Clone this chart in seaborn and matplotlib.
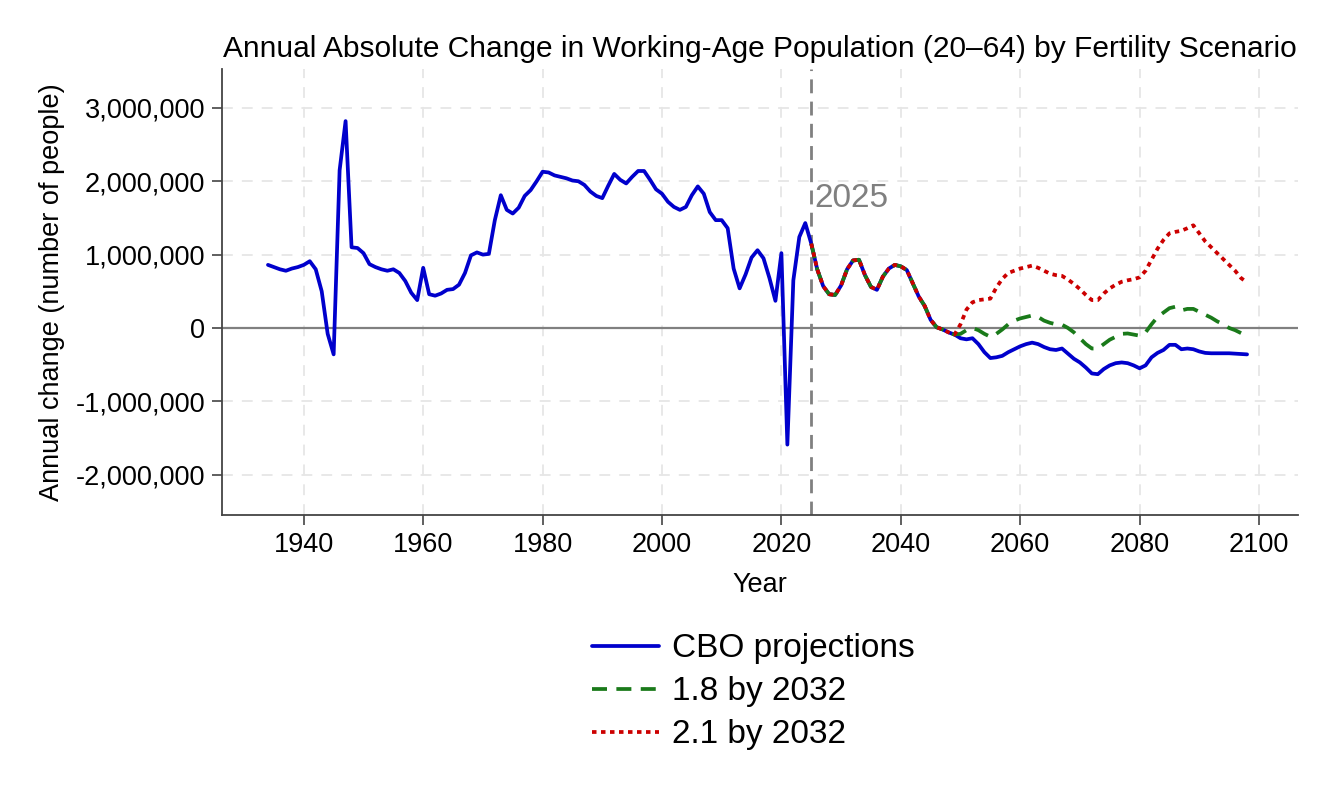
import numpy as np
import pandas as pd
import matplotlib
matplotlib.use("Agg")
import matplotlib.pyplot as plt
import matplotlib.ticker as mticker
import seaborn as sns

# annual change in working-age population, millions of people
hist_years = list(range(1934, 2050))
hist_vals = [
    0.86, 0.83, 0.80, 0.78, 0.81, 0.83, 0.86, 0.91, 0.80, 0.50,   # 1934-1943
    -0.08, -0.36, 2.15, 2.82, 1.10, 1.09, 1.02, 0.87, 0.83, 0.80,  # 1944-1953
    0.78, 0.80, 0.75, 0.64, 0.48, 0.38, 0.82, 0.46, 0.44, 0.47,    # 1954-1963
    0.52, 0.53, 0.59, 0.75, 0.99, 1.03, 1.00, 1.01, 1.47, 1.81,    # 1964-1973
    1.61, 1.56, 1.64, 1.80, 1.88, 2.00, 2.13, 2.12, 2.08, 2.06,    # 1974-1983
    2.04, 2.01, 2.00, 1.95, 1.86, 1.80, 1.77, 1.94, 2.10, 2.02,    # 1984-1993
    1.97, 2.06, 2.14, 2.14, 2.02, 1.89, 1.83, 1.72, 1.65, 1.61,    # 1994-2003
    1.65, 1.81, 1.93, 1.83, 1.58, 1.47, 1.47, 1.36, 0.81, 0.54,    # 2004-2013
    0.73, 0.96, 1.06, 0.95, 0.68, 0.37, 1.02, -1.59, 0.65, 1.24,   # 2014-2023
    1.43, 1.15, 0.80, 0.57, 0.46, 0.45, 0.58, 0.80, 0.92, 0.93,    # 2024-2033
    0.72, 0.56, 0.52, 0.70, 0.81, 0.86, 0.84, 0.79, 0.61, 0.43,    # 2034-2043
    0.30, 0.11, 0.01, -0.02, -0.06, -0.09,                         # 2044-2049
]

proj_years = list(range(2050, 2099))
cbo_proj = [
    -0.14, -0.155, -0.14, -0.22, -0.33, -0.41, -0.40, -0.38, -0.33, -0.29,   # 2050-2059
    -0.25, -0.22, -0.20, -0.22, -0.26, -0.29, -0.30, -0.28, -0.35, -0.42,    # 2060-2069
    -0.47, -0.54, -0.62, -0.63, -0.56, -0.51, -0.48, -0.47, -0.48, -0.51,    # 2070-2079
    -0.55, -0.51, -0.40, -0.34, -0.30, -0.23, -0.23, -0.29, -0.28, -0.29,    # 2080-2089
    -0.32, -0.34, -0.345, -0.345, -0.345, -0.345, -0.35, -0.355, -0.36,      # 2090-2098
]
tfr18_proj = [
    -0.08, -0.03, 0.00, -0.03, -0.08, -0.12, -0.08, -0.02, 0.05, 0.10,
    0.13, 0.15, 0.17, 0.15, 0.10, 0.07, 0.05, 0.045, 0.00, -0.06,
    -0.14, -0.22, -0.28, -0.28, -0.22, -0.16, -0.12, -0.08, -0.075, -0.09,
    -0.105, -0.06, 0.05, 0.15, 0.21, 0.27, 0.29, 0.24, 0.26, 0.26,
    0.22, 0.18, 0.14, 0.09, 0.05, 0.00, -0.03, -0.07, -0.08,
]
tfr21_proj = [
    0.05, 0.25, 0.35, 0.38, 0.39, 0.40, 0.55, 0.67, 0.75, 0.78,
    0.81, 0.83, 0.85, 0.82, 0.78, 0.74, 0.72, 0.71, 0.66, 0.60,
    0.53, 0.45, 0.38, 0.38, 0.47, 0.54, 0.59, 0.63, 0.65, 0.665,
    0.69, 0.78, 0.93, 1.08, 1.20, 1.29, 1.31, 1.325, 1.36, 1.40,
    1.29, 1.18, 1.10, 1.02, 0.94, 0.86, 0.78, 0.68, 0.62,
]

scenario_names = ["CBO projections", "1.8 by 2032", "2.1 by 2032"]
split_year = 2025

# scenarios share the CBO path from 2025 until they diverge
shared = [v for y, v in zip(hist_years, hist_vals) if y >= split_year]
shared_years = [y for y in hist_years if y >= split_year]

rows = []
for y, v in zip(hist_years + proj_years, hist_vals + cbo_proj):
    rows.append((y, v * 1e6, scenario_names[0]))
for name, proj in zip(scenario_names[1:], [tfr18_proj, tfr21_proj]):
    for y, v in zip(shared_years + proj_years, shared + proj):
        rows.append((y, v * 1e6, name))
df = pd.DataFrame(rows, columns=["Year", "Change", "Scenario"])

sns.set_style("white")
plt.rcParams["font.family"] = ["Liberation Sans", "DejaVu Sans"]
plt.rcParams["text.color"] = "black"
plt.rcParams["axes.labelcolor"] = "black"
plt.rcParams["xtick.color"] = "black"
plt.rcParams["ytick.color"] = "black"

fig = plt.figure(figsize=(13.27, 7.98), dpi=100)
ax = fig.add_axes([0.1673, 0.3546, 0.8107, 0.5589])

colors = {"CBO projections": "#0000CC", "1.8 by 2032": "#1A7A1A", "2.1 by 2032": "#CC0000"}
styles = {"CBO projections": "-", "1.8 by 2032": (0, (4, 2.5)), "2.1 by 2032": (0, (1.2, 1.2))}

for name in scenario_names:
    sub = df[df["Scenario"] == name]
    sns.lineplot(data=sub, x="Year", y="Change", ax=ax, color=colors[name],
                 linewidth=2.7, linestyle=styles[name], label=name)

ax.axhline(0, color="#808080", linewidth=1.6, zorder=1)
ax.axvline(split_year, color="#808080", linewidth=2, linestyle=(0, (5, 3)), zorder=1)
ax.text(split_year + 0.6, 1.76e6, "2025", color="#808080", fontsize=24, va="center", ha="left")

ax.set_xlim(1926.3, 2106.5)
ax.set_ylim(-2.55e6, 3.53e6)
ax.set_xticks(range(1940, 2101, 20))
ax.set_yticks(np.arange(-2e6, 3.1e6, 1e6))
ax.yaxis.set_major_formatter(mticker.FuncFormatter(lambda v, p: f"{int(round(v)):,}"))

ax.grid(True, color="#e6e6e6", linestyle=(0, (6, 5)), linewidth=1.3)
ax.set_axisbelow(True)
for side in ["top", "right"]:
    ax.spines[side].set_visible(False)
for side in ["left", "bottom"]:
    ax.spines[side].set_color("#444444")
    ax.spines[side].set_linewidth(1.3)
ax.tick_params(axis="both", which="major", direction="out", length=7, width=1.2,
               color="#444444", labelcolor="black", labelsize=19.5, left=True, bottom=True, pad=5)

ax.set_title("Annual Absolute Change in Working-Age Population (20\u201364) by Fertility Scenario",
             fontsize=21.5, pad=9)
ax.set_xlabel("Year", fontsize=19.5, labelpad=10)
ax.set_ylabel("Annual change (number of people)", fontsize=19.5, labelpad=8)

ax.legend(loc="upper center", bbox_to_anchor=(0.494, -0.198), frameon=False, fontsize=24,
          handlelength=2.0, labelspacing=0.36, handletextpad=0.4)

fig.savefig("out.png", dpi=100, facecolor="white")
